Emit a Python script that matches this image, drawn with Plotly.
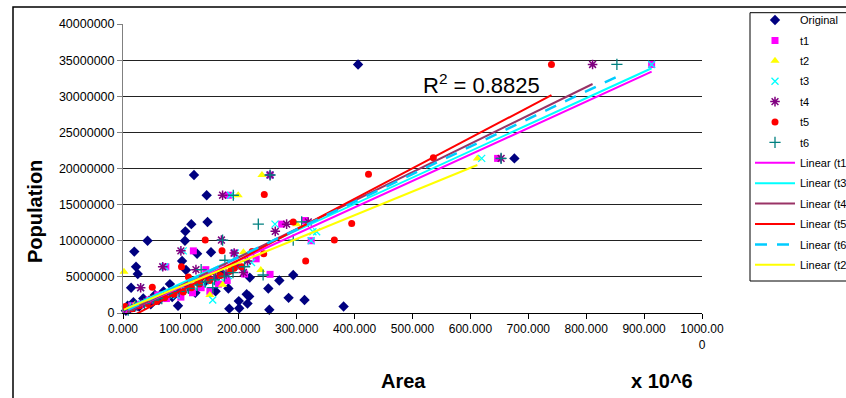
import plotly.graph_objects as go

# ---------------- data (area in units of 10^6, population in millions) ----------------
orig_x = [406, 676, 122.6, 144.5, 146, 118, 107.7, 42.4, 107, 19.5, 128, 152, 102, 108.8, 22.5, 25.5,
          14, 81, 182, 219, 270, 294, 251, 213.6, 218, 200, 215, 286, 313.5, 381, 183.6, 200.8, 252.7,
          5, 8, 12, 18, 28, 35, 48, 55, 62, 70, 85, 95, 110, 125, 140, 160, 170]
orig_y = [34.4, 21.4, 19.1, 16.3, 12.6, 12.3, 11.3, 10.0, 10.0, 8.5, 8.2, 8.4, 7.2, 5.95, 6.4, 5.4,
          3.5, 4.0, 3.4, 4.9, 4.5, 5.25, 3.4, 2.6, 2.3, 1.65, 1.3, 2.1, 1.8, 0.9, 0.6, 0.65, 0.45,
          0.3, 1.0, 0.6, 1.5, 0.9, 2.0, 1.2, 2.5, 1.8, 3.0, 2.2, 1.0, 3.5, 2.8, 4.2, 3.0, 5.5]

t1_x = [913, 647, 254, 182, 274, 314, 325, 121.5, 192, 74, 143, 254, 210,
        5, 15, 30, 45, 60, 75, 90, 100, 120, 135, 150, 165, 180, 195, 230]
t1_y = [34.4, 21.4, 19.1, 16.3, 12.3, 12.8, 10.0, 8.6, 8.3, 6.4, 6.0, 5.35, 5.4,
        0.5, 1.0, 1.2, 1.8, 2.5, 2.0, 3.0, 2.2, 2.8, 3.5, 3.0, 4.0, 4.5, 6.5, 7.5]

t2_x = [612, 240, 199, 300, 208, 238, 1.7, 172,
        8, 20, 38, 52, 68, 84, 98, 112, 128, 145, 160, 185, 150]
t2_y = [21.4, 19.1, 16.3, 12.3, 8.4, 5.95, 5.7, 3.9,
        0.6, 1.1, 1.4, 2.0, 2.4, 2.9, 3.1, 3.6, 4.1, 4.6, 5.0, 6.0, 2.5]

t3_x = [913, 619.5, 254, 186, 262.5, 334.5, 328, 325, 104, 194, 72, 30.5, 155,
        6, 18, 33, 48, 63, 78, 92, 108, 122, 138, 152, 168, 182, 200, 222]
t3_y = [34.4, 21.4, 19.1, 16.3, 12.3, 11.25, 11.25, 10.0, 8.6, 8.3, 6.4, 3.5, 1.8,
        0.4, 0.9, 1.3, 1.7, 2.2, 2.6, 2.4, 3.2, 3.6, 4.0, 4.4, 4.9, 5.2, 6.3, 7.0]

t4_x = [811, 653, 254, 172, 282.6, 320, 263, 170, 100, 192, 68.6, 126, 208, 30.5,
        7, 20, 36, 50, 66, 80, 96, 112, 130, 146, 160, 178, 196, 215]
t4_y = [34.4, 21.4, 19.1, 16.3, 12.3, 12.6, 11.3, 10.1, 8.6, 8.3, 6.4, 6.0, 5.6, 3.5,
        0.5, 0.8, 1.4, 1.9, 2.3, 2.8, 3.3, 3.7, 4.4, 4.8, 5.0, 5.4, 6.6, 7.2]

t5_x = [740, 536, 424, 244, 294, 395, 142, 365, 171, 223, 243, 315.5, 101, 192, 113, 50.6,
        4, 16, 28, 42, 58, 72, 88, 104, 118, 132, 150, 168, 186, 205]
t5_y = [34.4, 21.5, 19.2, 16.4, 12.6, 12.4, 10.1, 10.1, 8.6, 8.5, 8.2, 7.2, 6.4, 6.2, 5.0, 3.55,
        0.9, 0.6, 1.0, 1.3, 1.6, 2.1, 2.6, 2.9, 3.5, 4.0, 4.5, 5.2, 5.8, 6.4]

t6_x = [853, 653, 254, 190.5, 233.7, 308.6, 294, 172, 176, 135, 242, 155,
        9, 22, 37, 53, 67, 82, 97, 113, 128, 142, 158, 175, 190, 210]
t6_y = [34.4, 21.4, 19.1, 16.3, 12.3, 12.6, 10.1, 10.1, 7.3, 6.0, 5.26, 3.5,
        0.4, 1.0, 1.3, 1.8, 2.0, 2.7, 3.0, 3.4, 3.9, 4.3, 4.6, 5.1, 5.6, 6.4]

# linear trendline coefficients (slope in millions per unit, intercept in millions)
trend_names = ["Linear (t1)", "Linear (t3)", "Linear (t4)", "Linear (t5)", "Linear (t6)", "Linear (t2)"]
trend_series = ["t1", "t3", "t4", "t5", "t6", "t2"]
trend_slope = [0.03663, 0.03663, 0.03924, 0.04225, 0.0382, 0.0328]
trend_intercept = [-0.04, 0.43, -0.13, -1.11, 0.12, 0.41]

x_ticks = [0, 100, 200, 300, 400, 500, 600, 700, 800, 900, 1000]
x_ticktext = ["0.000", "100.000", "200.000", "300.000", "400.000", "500.000",
              "600.000", "700.000", "800.000", "900.000", "1000.00<br>0"]
r2_text = "R<sup>2</sup> = 0.8825"

# ---------------- figure ----------------
M = 1e6
series = {
    "Original": (orig_x, orig_y),
    "t1": (t1_x, t1_y), "t2": (t2_x, t2_y), "t3": (t3_x, t3_y),
    "t4": (t4_x, t4_y), "t5": (t5_x, t5_y), "t6": (t6_x, t6_y),
}
marker_styles = {
    "Original": dict(symbol="diamond", color="#000080", size=8),
    "t1": dict(symbol="square", color="#FF00FF", size=7),
    "t2": dict(symbol="triangle-up", color="#FFFF00", size=8),
    "t3": dict(symbol="x-thin-open", color="#00FFFF", size=7, line=dict(width=1.3, color="#00FFFF")),
    "t4": dict(symbol="asterisk-open", color="#800080", size=8, line=dict(width=1.5, color="#800080")),
    "t5": dict(symbol="circle", color="#FF0000", size=7),
    "t6": dict(symbol="cross-thin-open", color="#008080", size=8, line=dict(width=1.3, color="#008080")),
}
line_styles = {
    "t1": dict(color="#FF00FF", width=2),
    "t3": dict(color="#00FFFF", width=2),
    "t4": dict(color="#993366", width=2),
    "t5": dict(color="#FF0000", width=2),
    "t6": dict(color="#00CCFF", width=2.5, dash="12px,10px"),
    "t2": dict(color="#FFFF00", width=2),
}

fig = go.Figure()
for name, (xs, ys) in series.items():
    fig.add_trace(go.Scatter(x=xs, y=[v * M for v in ys], mode="markers", name=name,
                             legendgroup=name, marker=marker_styles[name], cliponaxis=False))

for tname, s, a, b in zip(trend_names, trend_series, trend_slope, trend_intercept):
    xs = series[s][0]
    x0, x1 = min(xs), max(xs)
    fig.add_trace(go.Scatter(x=[x0, x1], y=[(a * x0 + b) * M, (a * x1 + b) * M],
                             mode="lines", name=tname, legendgroup=tname, line=line_styles[s]))

font = "Arial, Liberation Sans, sans-serif"
fig.update_layout(
    width=846, height=398,
    margin=dict(l=123, r=144, t=24, b=85, autoexpand=False),
    paper_bgcolor="white", plot_bgcolor="white",
    font=dict(family=font, size=12, color="black"),
    showlegend=True,
    legend=dict(x=(750 - 123) / 579, y=(313 - 5.5) / 289, xanchor="left", yanchor="top",
                borderwidth=0, bgcolor="rgba(0,0,0,0)", traceorder="grouped",
                font=dict(size=11, family=font), tracegroupgap=1.4, itemwidth=40,
                maxheight=500),
    xaxis=dict(range=[0, 1000], tickvals=x_ticks, ticktext=x_ticktext, showgrid=False,
               showline=True, linecolor="black", linewidth=1, ticks="outside", ticklen=5,
               tickcolor="black", zeroline=False, tickfont=dict(size=12)),
    yaxis=dict(range=[0, 40 * M], dtick=5 * M, tickformat="d", showgrid=True, gridcolor="#222",
               gridwidth=1, showline=True, linecolor="#808080", ticks="outside", ticklen=5,
               tickcolor="#808080", zeroline=False, tickfont=dict(size=12.5)),
    annotations=[
        dict(text="<b>Population</b>", xref="paper", yref="paper", x=(35 - 123) / 579,
             y=(313 - 212) / 289, textangle=-90, showarrow=False, font=dict(size=20),
             xanchor="center", yanchor="middle"),
        dict(text="<b>Area</b>", xref="paper", yref="paper", x=(403 - 123) / 579,
             y=(313 - 381) / 289, showarrow=False, font=dict(size=20),
             xanchor="center", yanchor="middle"),
        dict(text="<b>x 10^6</b>", xref="paper", yref="paper", x=(662 - 123) / 579,
             y=(313 - 381) / 289, showarrow=False, font=dict(size=20),
             xanchor="center", yanchor="middle"),
        dict(text=r2_text, xref="x", yref="y", x=514, y=31.7 * M, showarrow=False,
             font=dict(size=22), xanchor="left", yanchor="middle"),
    ],
    shapes=[
        dict(type="rect", xref="paper", yref="paper", x0=(13 - 123) / 579, y0=-2,
             x1=3, y1=(313 - 7) / 289, line=dict(color="black", width=1.5),
             fillcolor="rgba(0,0,0,0)", layer="below"),
        dict(type="rect", xref="paper", yref="paper", x0=(750 - 123) / 579, y0=(313 - 281) / 289,
             x1=(900 - 123) / 579, y1=(313 - 12.7) / 289, line=dict(color="black", width=1),
             fillcolor="white", layer="above"),
    ],
)

fig.write_html("out.html")
